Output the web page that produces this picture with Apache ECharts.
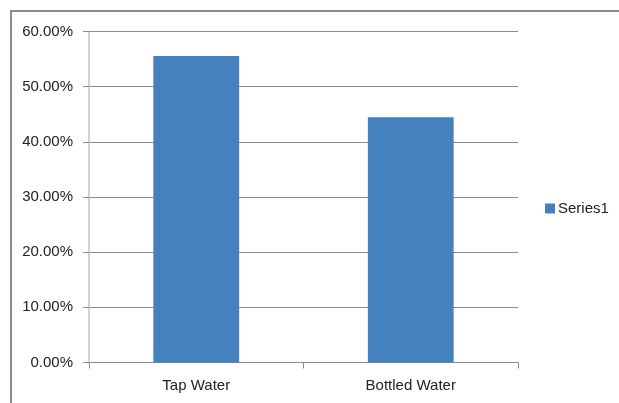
<!DOCTYPE html>
<html>
<head>
<meta charset="utf-8">
<script src="https://cdn.jsdelivr.net/npm/echarts@6/dist/echarts.min.js"></script>
<style>
  html, body { margin: 0; padding: 0; background: #fff; }
  #chart { width: 619px; height: 403px; }
</style>
</head>
<body>
<div id="chart"></div>
<script>
// Share of respondents by drinking-water source
const categories = ['Tap Water', 'Bottled Water'];
const series1 = [0.5556, 0.4444];
const yTicks = { min: 0, max: 0.6, step: 0.1 };
const seriesName = 'Series1';

const FONT = '"Liberation Sans", Arial, sans-serif';
const chart = echarts.init(document.getElementById('chart'), null, { renderer: 'canvas' });

chart.setOption({
  backgroundColor: '#ffffff',
  animation: false,
  graphic: [{
    type: 'polyline',
    shape: { points: [[11, 403], [11, 11], [619, 11]] },
    style: { stroke: '#8c8c8c', lineWidth: 2, fill: null },
    silent: true
  }],
  legend: {
    data: [seriesName],
    orient: 'vertical',
    left: 545,
    top: 201,
    padding: 0,
    itemWidth: 10,
    itemHeight: 10,
    itemGap: 4,
    icon: 'rect',
    textStyle: { fontFamily: FONT, fontSize: 15, color: '#222', padding: [0, 0, 0, -2] }
  },
  grid: { left: 89, right: 101, top: 31.5, bottom: 40.5, containLabel: false },
  xAxis: {
    type: 'category',
    data: categories,
    axisLine: { lineStyle: { color: '#8c8c8c', width: 1 } },
    axisTick: { show: true, length: 6, lineStyle: { color: '#8c8c8c' } },
    axisLabel: { fontFamily: FONT, fontSize: 15, color: '#222', margin: 16 }
  },
  yAxis: {
    type: 'value',
    min: yTicks.min,
    max: yTicks.max,
    interval: yTicks.step,
    axisLine: { show: true, lineStyle: { color: '#c4c4c4', width: 1.5 } },
    axisTick: { show: true, length: 6, lineStyle: { color: '#8c8c8c' } },
    axisLabel: {
      fontFamily: FONT, fontSize: 15, color: '#222', margin: 16,
      formatter: v => (v * 100).toFixed(2) + '%'
    },
    splitLine: { lineStyle: { color: '#8c8c8c', width: 1 } }
  },
  series: [{
    name: seriesName,
    type: 'bar',
    data: series1,
    barWidth: '40%',
    itemStyle: { color: '#4581bf' }
  }]
});
</script>
</body>
</html>
